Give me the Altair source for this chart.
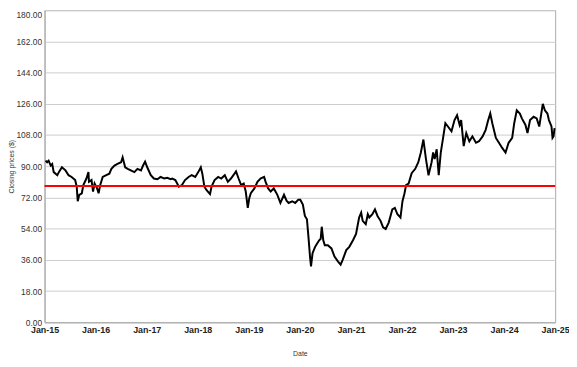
import altair as alt
import pandas as pd

# Decimal-year positions and closing prices
years = [
    2015.02, 2015.05, 2015.08, 2015.12, 2015.15, 2015.18, 2015.25, 2015.28, 2015.34, 2015.41,
    2015.47, 2015.53, 2015.60, 2015.63, 2015.65, 2015.68, 2015.73, 2015.76, 2015.82, 2015.86,
    2015.87, 2015.92, 2015.95, 2015.98, 2016.03, 2016.06, 2016.09, 2016.14, 2016.21, 2016.27,
    2016.31, 2016.37, 2016.43, 2016.50, 2016.53, 2016.58, 2016.63, 2016.69, 2016.76, 2016.82,
    2016.89, 2016.93, 2016.97, 2017.01, 2017.08, 2017.14, 2017.21, 2017.27, 2017.34, 2017.40,
    2017.47, 2017.50, 2017.56, 2017.63, 2017.69, 2017.75, 2017.82, 2017.88, 2017.95, 2018.01,
    2018.06, 2018.09, 2018.13, 2018.17, 2018.24, 2018.27, 2018.33, 2018.40, 2018.46, 2018.53,
    2018.59, 2018.65, 2018.72, 2018.75, 2018.80, 2018.85, 2018.90, 2018.94, 2018.98, 2019.01,
    2019.04, 2019.11, 2019.17, 2019.23, 2019.30, 2019.33, 2019.38, 2019.43, 2019.49, 2019.56,
    2019.62, 2019.69, 2019.74, 2019.78, 2019.85, 2019.91, 2019.97, 2020.01, 2020.06, 2020.10,
    2020.14, 2020.17, 2020.20, 2020.22, 2020.25, 2020.30, 2020.34, 2020.38, 2020.41, 2020.43,
    2020.46, 2020.49, 2020.55, 2020.62, 2020.68, 2020.75, 2020.80, 2020.84, 2020.91, 2020.97,
    2021.04, 2021.10, 2021.16, 2021.20, 2021.23, 2021.29, 2021.33, 2021.36, 2021.42, 2021.47,
    2021.52, 2021.58, 2021.63, 2021.68, 2021.74, 2021.81, 2021.86, 2021.91, 2021.97, 2022.01,
    2022.05, 2022.08, 2022.13, 2022.19, 2022.26, 2022.32, 2022.37, 2022.42, 2022.47, 2022.52,
    2022.58, 2022.61, 2022.64, 2022.68, 2022.72, 2022.76, 2022.81, 2022.85, 2022.90, 2022.97,
    2023.03, 2023.08, 2023.13, 2023.16, 2023.21, 2023.26, 2023.32, 2023.38, 2023.45, 2023.51,
    2023.58, 2023.64, 2023.69, 2023.73, 2023.77, 2023.84, 2023.90, 2023.96, 2024.03, 2024.09,
    2024.16, 2024.20, 2024.25, 2024.31, 2024.35, 2024.42, 2024.46, 2024.51, 2024.58, 2024.64,
    2024.69, 2024.76, 2024.80, 2024.85, 2024.88, 2024.93, 2024.95, 2024.97, 2024.99,
]
prices = [
    93.2, 92.3, 93.2, 90.4, 91.3, 86.6, 84.8, 86.6, 89.4, 87.6,
    84.8, 83.8, 82.0, 78.2, 69.8, 73.5, 74.4, 79.1, 82.9, 86.6,
    81.0, 82.0, 75.4, 80.0, 77.2, 74.4, 79.1, 83.8, 84.8, 85.7,
    88.5, 90.4, 91.3, 92.3, 95.1, 89.4, 88.5, 87.6, 86.6, 88.5,
    87.6, 90.4, 92.6, 89.4, 84.8, 82.9, 82.5, 83.8, 82.9, 83.3,
    82.5, 82.9, 82.0, 78.2, 79.1, 82.0, 83.8, 84.8, 83.8, 86.6,
    89.4, 85.7, 78.2, 76.3, 73.9, 78.2, 82.0, 83.8, 82.9, 84.8,
    81.0, 82.9, 85.7, 87.0, 82.9, 79.1, 80.0, 75.4, 66.0, 71.6,
    74.4, 77.2, 81.0, 82.9, 83.8, 81.0, 77.2, 75.4, 77.2, 73.5,
    68.8, 73.5, 70.1, 68.8, 69.8, 68.8, 70.7, 70.7, 67.9, 61.3,
    59.4, 49.1, 37.9, 32.2, 39.8, 43.5, 45.4, 47.3, 48.2, 55.1,
    47.3, 44.4, 44.4, 42.6, 37.9, 35.0, 33.2, 36.0, 41.6, 43.5,
    47.3, 51.0, 60.4, 63.2, 58.5, 56.6, 62.3, 60.4, 62.3, 65.1,
    61.3, 58.5, 54.7, 53.8, 57.5, 65.1, 66.0, 62.3, 60.4, 69.8,
    74.4, 79.1, 80.0, 86.0, 88.5, 92.3, 97.9, 105.4, 94.1, 84.8,
    92.3, 97.9, 94.1, 99.8, 84.8, 97.9, 107.2, 114.8, 112.9, 110.1,
    116.6, 119.4, 113.8, 116.6, 101.6, 109.1, 104.4, 107.2, 103.5, 104.4,
    107.2, 111.0, 116.6, 120.4, 114.8, 106.3, 103.5, 100.7, 97.9, 103.5,
    106.3, 114.8, 122.2, 120.4, 117.6, 113.8, 109.1, 116.6, 118.5, 117.6,
    112.9, 126.0, 122.2, 120.4, 116.6, 112.9, 106.3, 107.2, 111.9,
]
reference_level = [78.6]
y_ticks = [0, 18, 36, 54, 72, 90, 108, 126, 144, 162, 180]
x_tick_years = list(range(2015, 2026))


def to_date(y):
    yr = int(y)
    frac = y - yr
    return (pd.Timestamp(f"{yr}-01-01") + pd.Timedelta(days=frac * 365.25)).strftime("%Y-%m-%dT%H:%M:%S")


df = pd.DataFrame({"Date": [to_date(v) for v in years], "Price": prices})
ref = pd.DataFrame({"Price": reference_level})

FONT = "Liberation Sans"

x_enc = alt.X(
    "Date:T",
    title="Date",
    scale=alt.Scale(domain=[alt.DateTime(year=2015, month=1, date=1),
                            alt.DateTime(year=2025, month=1, date=1)]),
    axis=alt.Axis(
        values=[alt.DateTime(year=y, month=1, date=1) for y in x_tick_years],
        format="%b-%y",
        grid=False,
        ticks=False,
        labelFont=FONT,
        labelFontSize=9,
        labelFontWeight="bold",
        labelColor="#222222",
        labelPadding=3,
        labelFlush=False,
        labelOverlap=False,
        domainColor="#aaaaaa",
        titleFont=FONT,
        titleFontSize=7,
        titleFontWeight="normal",
        titleColor="#333333",
        titlePadding=16,
    ),
)

y_scale = alt.Scale(domain=[0, 180], nice=False, zero=True)
y_axis = alt.Axis(
    values=y_ticks,
    format=".2f",
    grid=True,
    gridColor="#cccccc",
    gridWidth=1,
    ticks=False,
    labelFont=FONT,
    labelFontSize=8.5,
    labelColor="#333333",
    labelPadding=3,
    labelOverlap=False,
    labelFlush=False,
    labelBaseline={"condition": {"test": "datum.value == 180", "value": "top"}, "value": "middle"},
    domainColor="#aaaaaa",
    titleFont=FONT,
    titleFontSize=7,
    titleFontWeight="normal",
    titleColor="#333333",
    titlePadding=1,
)
y_enc = alt.Y("Price:Q", title="Closing prices ($)", scale=y_scale, axis=y_axis)

line = alt.Chart(df).mark_line(color="black", strokeWidth=2).encode(x=x_enc, y=y_enc)

rule = alt.Chart(ref).mark_rule(color="#ff0000", strokeWidth=2).encode(y=y_enc)

chart = (
    alt.layer(line, rule)
    .properties(
        width=517,
        height=316,
        autosize=alt.AutoSizeParams(type="none"),
        padding={"left": 37, "top": 0, "right": 14, "bottom": 35},
        background="white",
    )
    .configure_view(stroke="#aaaaaa", strokeWidth=1)
)

chart.save("out.html", embed_options={"renderer": "svg", "actions": False})
